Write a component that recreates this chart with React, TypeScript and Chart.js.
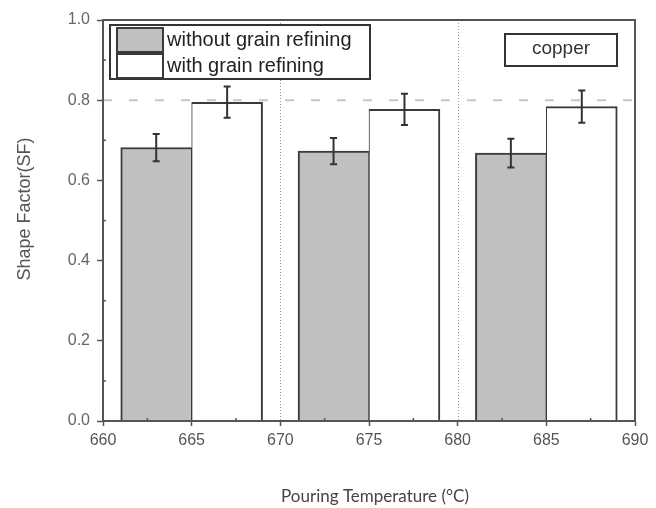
import React, { useEffect, useRef } from "react";
import { Chart, registerables } from "chart.js";

Chart.register(...registerables);

// Series data: shape factor at three pouring temperatures
const seriesLabels = ["without grain refining", "with grain refining"];
const withoutTemps = [663, 673, 683];
const withTemps = [667, 677, 687];
const withoutSF = [0.682, 0.673, 0.668];
const withoutErr = [0.034, 0.033, 0.036];
const withSF = [0.795, 0.777, 0.784];
const withErr = [0.039, 0.039, 0.04];

// Reference lines
const refLineY = [0.8];
const refLinesX = [670, 680];

const noteLabel = "copper";
const xTitle = "Pouring Temperature (°C)";
const yTitle = "Shape Factor(SF)";

const GRAY = "#c0c0c0";
const EDGE = "#3a3a3a";
const AXIS = "#555";
const SANS = "'Liberation Sans', Arial, sans-serif";

const decorPlugin = {
  id: "decor",
  beforeDatasetsDraw(chart: any) {
    const { ctx, chartArea: a, scales } = chart;
    const x = scales.x;
    const y = scales.y;
    ctx.save();
    // dashed horizontal reference line
    ctx.strokeStyle = "#c6c6c6";
    ctx.lineWidth = 2;
    ctx.setLineDash([9, 17]);
    refLineY.forEach((v) => {
      const py = y.getPixelForValue(v);
      ctx.beginPath();
      ctx.moveTo(a.left, py);
      ctx.lineTo(a.right, py);
      ctx.stroke();
    });
    // dotted vertical lines
    ctx.strokeStyle = "#9a9a9a";
    ctx.lineWidth = 1;
    ctx.setLineDash([1, 2]);
    refLinesX.forEach((v) => {
      const px = Math.round(x.getPixelForValue(v)) + 0.5;
      ctx.beginPath();
      ctx.moveTo(px, a.top);
      ctx.lineTo(px, a.bottom);
      ctx.stroke();
    });
    ctx.restore();
  },
  afterDatasetsDraw(chart: any) {
    const { ctx, scales } = chart;
    const x = scales.x;
    const y = scales.y;
    ctx.save();
    ctx.strokeStyle = "#333";
    ctx.lineWidth = 2;
    const cap = 3.5;
    const drawErr = (xs: number[], vs: number[], es: number[]) => {
      xs.forEach((xv, i) => {
        const px = x.getPixelForValue(xv);
        const top = y.getPixelForValue(vs[i] + es[i]);
        const bot = y.getPixelForValue(vs[i] - es[i]);
        ctx.beginPath();
        ctx.moveTo(px, top);
        ctx.lineTo(px, bot);
        ctx.moveTo(px - cap, top);
        ctx.lineTo(px + cap, top);
        ctx.moveTo(px - cap, bot);
        ctx.lineTo(px + cap, bot);
        ctx.stroke();
      });
    };
    drawErr(withoutTemps, withoutSF, withoutErr);
    drawErr(withTemps, withSF, withErr);
    ctx.restore();
  },
  afterDraw(chart: any) {
    const { ctx, chartArea: a, scales } = chart;
    const x = scales.x;
    const y = scales.y;
    ctx.save();

    // frame around plot area
    ctx.strokeStyle = AXIS;
    ctx.lineWidth = 2;
    ctx.strokeRect(a.left, a.top, a.right - a.left, a.bottom - a.top);

    // minor ticks
    ctx.lineWidth = 1.5;
    for (let v = 0.1; v < 1; v += 0.2) {
      const py = y.getPixelForValue(v);
      ctx.beginPath();
      ctx.moveTo(a.left, py);
      ctx.lineTo(a.left + 3, py);
      ctx.stroke();
    }
    for (let v = 662.5; v < 690; v += 5) {
      const px = x.getPixelForValue(v);
      ctx.beginPath();
      ctx.moveTo(px, a.bottom);
      ctx.lineTo(px, a.bottom - 3);
      ctx.stroke();
    }

    // legend
    const ds = chart.data.datasets;
    ctx.lineWidth = 2;
    ctx.strokeStyle = "#333";
    ctx.fillStyle = "#fff";
    ctx.fillRect(110, 25, 260, 54);
    ctx.strokeRect(110, 25, 260, 54);
    const rows = [27, 53];
    ds.forEach((d: any, i: number) => {
      ctx.fillStyle = d.backgroundColor;
      ctx.fillRect(117, rows[i] + 1, 46, 24);
      ctx.strokeStyle = EDGE;
      ctx.strokeRect(117, rows[i] + 1, 46, 24);
      ctx.fillStyle = "#222";
      ctx.font = `20px ${SANS}`;
      ctx.textAlign = "left";
      ctx.textBaseline = "middle";
      ctx.fillText(d.label, 167, rows[i] + 13);
    });

    // note box
    ctx.fillStyle = "#fff";
    ctx.fillRect(505, 34, 112, 32);
    ctx.strokeStyle = "#333";
    ctx.strokeRect(505, 34, 112, 32);
    ctx.fillStyle = "#333";
    ctx.font = `19px ${SANS}`;
    ctx.textAlign = "center";
    ctx.textBaseline = "middle";
    ctx.fillText(noteLabel, 561, 49);

    // axis titles
    ctx.fillStyle = "#444";
    ctx.font = `17px Lato, 'Open Sans', sans-serif`;
    ctx.fillText(xTitle, 375, 497);

    ctx.save();
    ctx.translate(25, 209);
    ctx.rotate(-Math.PI / 2);
    ctx.fillStyle = "#555";
    ctx.font = `18px ${SANS}`;
    ctx.fillText(yTitle, 0, 0);
    ctx.restore();

    ctx.restore();
  },
};

export default function App() {
  const canvasRef = useRef<HTMLCanvasElement | null>(null);

  useEffect(() => {
    document.body.style.margin = "0";
    const canvas = canvasRef.current;
    if (!canvas) return;

    const chart = new Chart(canvas, {
      type: "bar",
      data: {
        datasets: [
          {
            label: seriesLabels[0],
            data: withoutTemps.map((t, i) => ({ x: t, y: withoutSF[i] })),
            backgroundColor: GRAY,
            borderColor: EDGE,
            borderWidth: { top: 2, left: 2, right: 1, bottom: 0 },
            borderSkipped: false,
            categoryPercentage: 1,
            barPercentage: 1,
          },
          {
            label: seriesLabels[1],
            data: withTemps.map((t, i) => ({ x: t, y: withSF[i] })),
            backgroundColor: "#ffffff",
            borderColor: EDGE,
            borderWidth: { top: 2, left: 1, right: 2, bottom: 0 },
            borderSkipped: false,
            categoryPercentage: 1,
            barPercentage: 1,
          },
        ],
      },
      options: {
        responsive: false,
        animation: false,
        layout: { padding: { top: 20, right: 21, left: 0, bottom: 0 } },
        plugins: {
          legend: { display: false },
          tooltip: { enabled: false },
        },
        scales: {
          x: {
            type: "linear",
            min: 660,
            max: 690,
            offset: false,
            stacked: true,
            ticks: {
              stepSize: 5,
              color: AXIS,
              font: { size: 16, family: SANS },
              padding: 5,
              maxRotation: 0,
            },
            grid: {
              drawOnChartArea: false,
              offset: false,
              color: AXIS,
              tickColor: AXIS,
              tickLength: 5,
              tickWidth: 1.5,
            },
            border: { color: AXIS, width: 2 },
            afterFit: (s: any) => {
              s.height = 87;
            },
          },
          y: {
            min: 0,
            max: 1,
            ticks: {
              stepSize: 0.2,
              color: "#666",
              font: { size: 16, family: SANS },
              padding: 7,
              callback: (v: any) => Number(v).toFixed(1),
            },
            grid: {
              drawOnChartArea: false,
              color: AXIS,
              tickColor: AXIS,
              tickLength: 6,
              tickWidth: 1.5,
            },
            border: { color: AXIS, width: 2 },
            afterFit: (s: any) => {
              s.width = 103;
            },
          },
        },
      },
      plugins: [decorPlugin],
    } as any);

    return () => chart.destroy();
  }, []);

  return (
    <div style={{ width: 656, height: 508, background: "#fff" }}>
      <canvas ref={canvasRef} width={656} height={508} style={{ display: "block" }} />
    </div>
  );
}
